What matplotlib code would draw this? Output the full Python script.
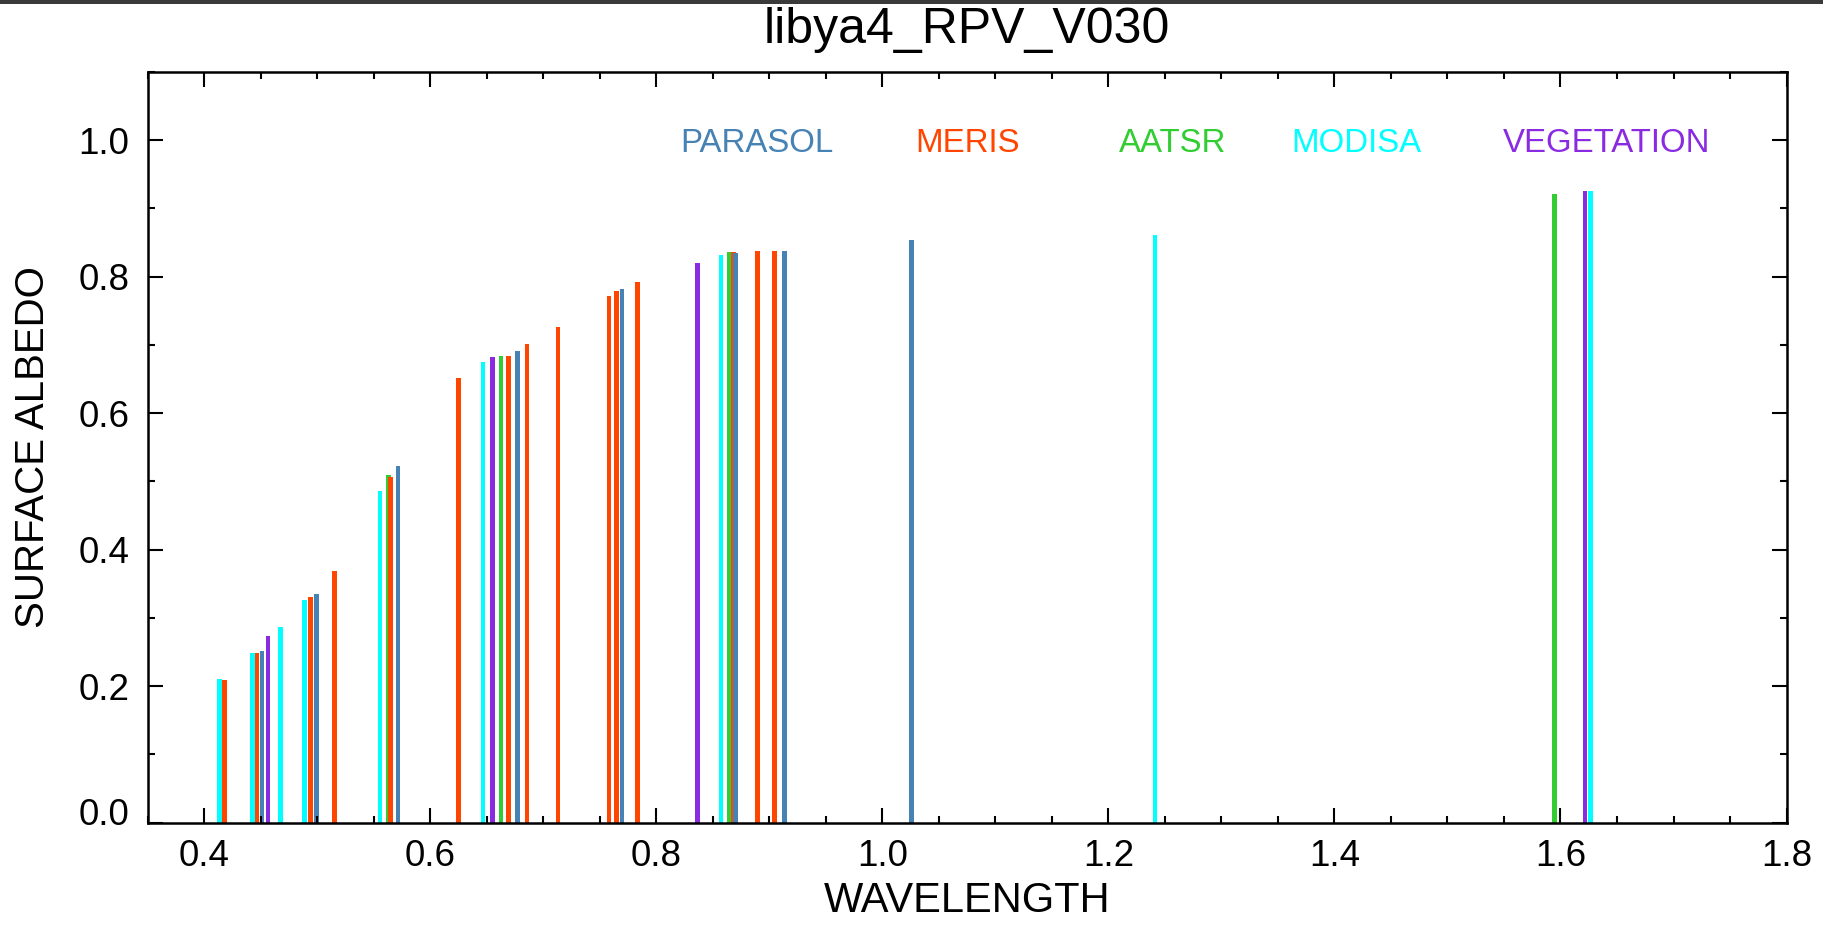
import matplotlib
matplotlib.use("Agg")
import matplotlib.pyplot as plt
import matplotlib.transforms as mtransforms
from matplotlib.patches import Rectangle
from matplotlib.ticker import MultipleLocator

plt.rcParams['font.family'] = ['Liberation Sans', 'DejaVu Sans']

# band positions (as drawn) and surface albedo, per sensor
parasol_wl = [0.4512, 0.4992, 0.5714, 0.6769, 0.7697, 0.8703, 0.9136, 1.0261]
parasol_alb = [0.2515, 0.3346, 0.523, 0.6908, 0.7821, 0.8348, 0.8382, 0.8539]

meris_wl = [0.4178, 0.4467, 0.4939, 0.5151, 0.5649, 0.6247, 0.6695, 0.6857,
            0.7131, 0.7582, 0.7650, 0.7833, 0.8685, 0.8897, 0.9045]
meris_alb = [0.2086, 0.2482, 0.3306, 0.3687, 0.5063, 0.6518, 0.6845, 0.701,
             0.727, 0.7723, 0.7797, 0.7918, 0.8367, 0.8372, 0.8382]

aatsr_wl = [0.5632, 0.6627, 0.8647, 1.5949]
aatsr_alb = [0.5092, 0.6835, 0.8357, 0.921]

modisa_wl = [0.4134, 0.4429, 0.4673, 0.4886, 0.5555, 0.6468, 0.8573, 1.2413, 1.6267]
modisa_alb = [0.2097, 0.2486, 0.2873, 0.3268, 0.4858, 0.6747, 0.8319, 0.8612, 0.9256]

veg_wl = [0.4565, 0.6548, 0.8364, 1.6216]
veg_alb = [0.2735, 0.682, 0.8196, 0.9256]

sensors = ['PARASOL', 'MERIS', 'AATSR', 'MODISA', 'VEGETATION']

fig = plt.figure(figsize=(18.23, 9.27), dpi=100)
ax = fig.add_axes([0.081, 0.1127, 0.899, 0.8096])

# drawing order: later sensors sit on top where bands touch
series = [
    (modisa_wl, modisa_alb, '#00FFFF'),
    (aatsr_wl, aatsr_alb, '#32CD32'),
    (meris_wl, meris_alb, '#FF4500'),
    (parasol_wl, parasol_alb, '#4682B4'),
    (veg_wl, veg_alb, '#8A2BE2'),
]
for wl, alb, col in series:
    ax.bar(wl, alb, width=0.0042, color=col, linewidth=0, align='center')

ax.set_xlim(0.35, 1.8)
ax.set_ylim(0.0, 1.1)

ax.xaxis.set_major_locator(MultipleLocator(0.2))
ax.xaxis.set_minor_locator(MultipleLocator(0.05))
ax.yaxis.set_major_locator(MultipleLocator(0.2))
ax.yaxis.set_minor_locator(MultipleLocator(0.1))
ax.set_xticks([0.4, 0.6, 0.8, 1.0, 1.2, 1.4, 1.6, 1.8])
ax.set_yticks([0.0, 0.2, 0.4, 0.6, 0.8, 1.0])
ax.xaxis.set_major_formatter(plt.FormatStrFormatter('%.1f'))
ax.yaxis.set_major_formatter(plt.FormatStrFormatter('%.1f'))

ax.tick_params(which='both', direction='in', top=True, right=True, width=1.5, color='black')
ax.tick_params(which='major', length=11)
ax.tick_params(which='minor', length=5)
ax.tick_params(axis='x', which='major', labelsize=26.5, pad=12)
ax.tick_params(axis='y', which='major', labelsize=26.5, pad=13)
for sp in ax.spines.values():
    sp.set_linewidth(1.8)

# IDL-style: bottom y label nudged up off the x axis
lab0 = ax.yaxis.get_major_ticks()[0].label1
lab0.set_transform(lab0.get_transform() + mtransforms.ScaledTranslation(0, 8 / 72, fig.dpi_scale_trans))

ax.set_xlabel('WAVELENGTH', fontsize=30)
ax.xaxis.set_label_coords(0.5, -0.1046)
ax.xaxis.label.set_va('center')
ax.set_ylabel('SURFACE ALBEDO', fontsize=29)
ax.yaxis.set_label_coords(-0.0702, 0.5)
ax.yaxis.label.set_va('center')

ax.set_title('libya4_RPV_V030', fontsize=36, y=1.0453, va='center')

# sensor names across the top
name_x = [0.889, 1.0757, 1.2566, 1.419, 1.641]
name_col = ['#4682B4', '#FF4500', '#32CD32', '#00FFFF', '#8A2BE2']
for nm, nx, nc in zip(sensors, name_x, name_col):
    ax.text(nx, 0.995, nm, color=nc, fontsize=23.8, ha='center', va='center')

# dark strip along the top edge of the screenshot
fig.add_artist(Rectangle((0, 1 - 4 / 927), 1, 4 / 927, transform=fig.transFigure,
                         facecolor='#3a3a3a', edgecolor='none'))

fig.savefig('out.png', dpi=100, facecolor='white')
